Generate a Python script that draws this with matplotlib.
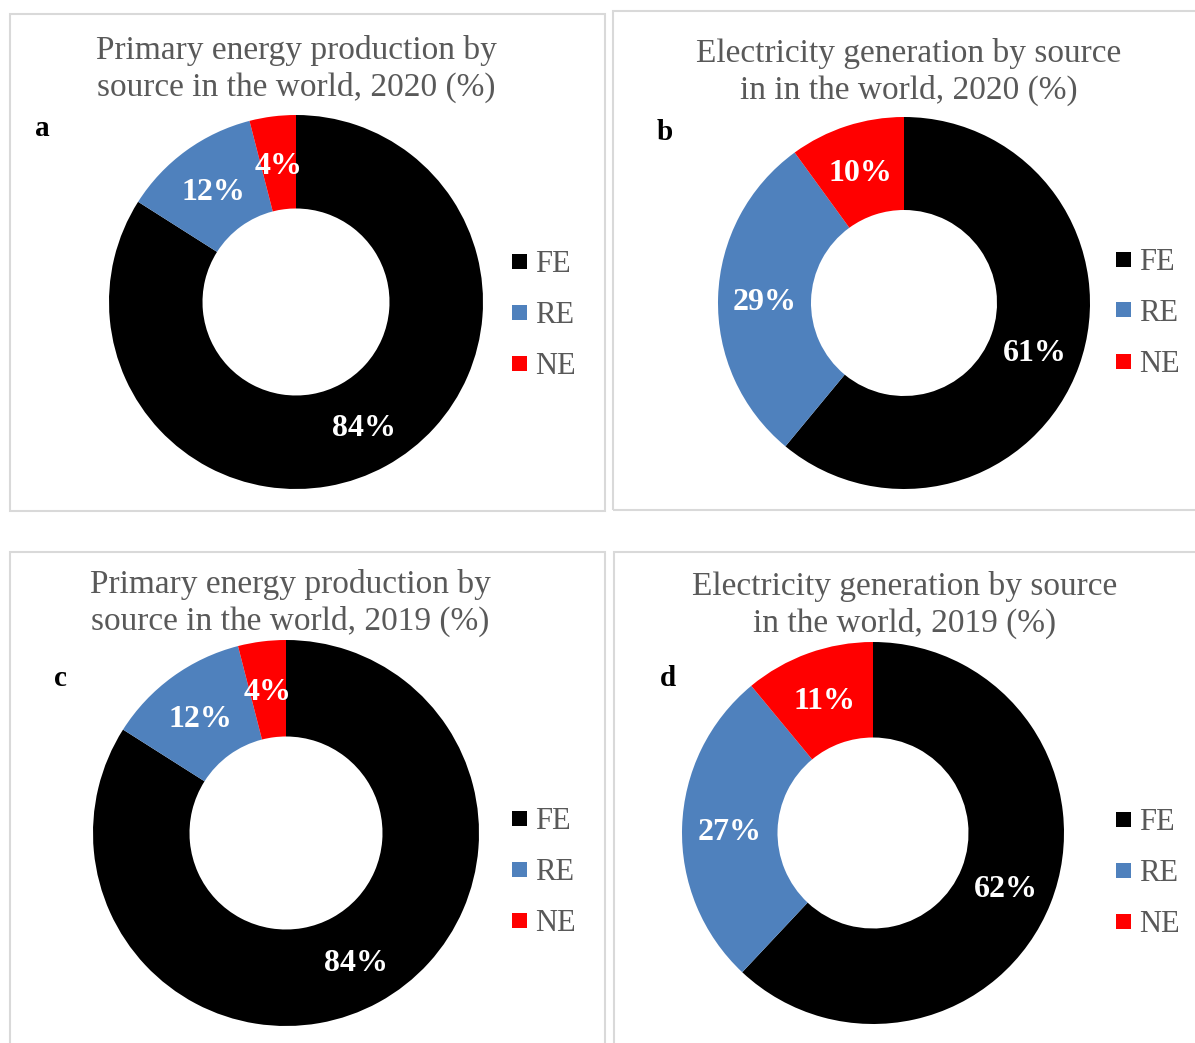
import matplotlib
matplotlib.use("Agg")
import matplotlib.pyplot as plt
from matplotlib.patches import Rectangle

W, H = 1195, 1043

SOURCES = ["FE", "RE", "NE"]
COLORS = ["#000000", "#4f81bd", "#ff0000"]

PRIMARY_2020 = [84, 12, 4]
ELECTRICITY_2020 = [61, 29, 10]
PRIMARY_2019 = [84, 12, 4]
ELECTRICITY_2019 = [62, 27, 11]

TITLES = [
    "Primary energy production by\nsource in the world, 2020 (%)",
    "Electricity generation by source\nin in the world, 2020 (%)",
    "Primary energy production by\nsource in the world, 2019 (%)",
    "Electricity generation by source\nin the world, 2019 (%)",
]
TAGS = ["a", "b", "c", "d"]

# pixel layout of each panel: frame, donut centre/radius, title, tag, legend
PANELS = [
    dict(box=(10, 14, 605, 511), c=(296, 302), r=187, title=(296, 69),
         tag=(42, 128), leg_x=512, leg_y=(261, 312, 363)),
    dict(box=(613, 11, 1205, 510), c=(904, 303), r=186, title=(909, 72),
         tag=(665, 132), leg_x=1116, leg_y=(259, 310, 361)),
    dict(box=(10, 552, 605, 1055), c=(286, 833), r=193, title=(290, 603),
         tag=(60, 679), leg_x=512, leg_y=(818, 869, 920)),
    dict(box=(614, 552, 1205, 1055), c=(873, 833), r=191, title=(905, 605),
         tag=(668, 679), leg_x=1116, leg_y=(819, 870, 921)),
]

SERIF = ["Liberation Serif", "DejaVu Serif"]
GREY = "#595959"


def fx(x):
    return x / W


def fy(y):
    return 1 - y / H


def draw_panel(fig, values, title, tag, p):
    x0, y0, x1, y1 = p["box"]
    fig.add_artist(Rectangle((fx(x0), fy(y1)), fx(x1 - x0), (y1 - y0) / H,
                             transform=fig.transFigure, fill=False,
                             edgecolor="#d9d9d9", linewidth=1.5))

    cx, cy = p["c"]
    r = p["r"]
    ax = fig.add_axes([fx(cx - r), fy(cy + r), fx(2 * r), 2 * r / H])
    ax.pie(values, colors=COLORS, startangle=90, counterclock=False,
           radius=1.0, wedgeprops=dict(width=0.5, linewidth=0),
           autopct=lambda v: f"{v:.0f}%", pctdistance=0.75,
           textprops=dict(color="white", fontsize=23, fontweight="bold",
                          family=SERIF, va="center_baseline"))
    ax.set_xlim(-1, 1)
    ax.set_ylim(-1, 1)
    ax.axis("off")

    fig.text(fx(p["title"][0]), fy(p["title"][1]), title, ha="center",
             va="center", fontsize=24, color=GREY, family=SERIF,
             linespacing=1.2)
    fig.text(fx(p["tag"][0]), fy(p["tag"][1]), tag, ha="center",
             va="center", fontsize=21, fontweight="bold", color="black",
             family=SERIF)

    sq = 15
    for name, color, ly in zip(SOURCES, COLORS, p["leg_y"]):
        fig.add_artist(Rectangle((fx(p["leg_x"]), fy(ly + sq / 2)), fx(sq),
                                 sq / H, transform=fig.transFigure,
                                 facecolor=color, edgecolor="none"))
        fig.text(fx(p["leg_x"] + sq + 8), fy(ly), name, ha="left",
                 va="center_baseline", fontsize=22, color=GREY, family=SERIF)


def main():
    fig = plt.figure(figsize=(W / 100, H / 100), dpi=100)
    fig.patch.set_facecolor("white")

    data = [PRIMARY_2020, ELECTRICITY_2020, PRIMARY_2019, ELECTRICITY_2019]
    for values, title, tag, p in zip(data, TITLES, TAGS, PANELS):
        draw_panel(fig, values, title, tag, p)

    fig.savefig("out.png", dpi=100)
    plt.close(fig)


if __name__ == "__main__":
    main()
